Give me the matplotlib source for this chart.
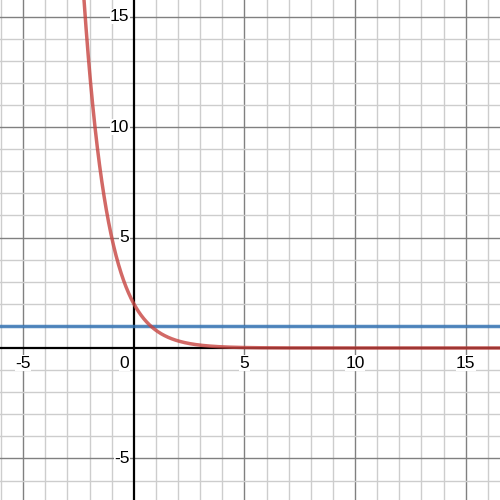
import numpy as np
import matplotlib
matplotlib.use("Agg")
import matplotlib.pyplot as plt

# Data
curve_scale = 2.0
curve_base = 0.4          # y = 2 * 0.4**x
hline_value = 1.0
x_ticks = [-5, 5, 10, 15]
y_ticks = [-5, 5, 10, 15]
xlim = (-6.05, 16.55)
ylim = (-6.88, 15.75)

plt.rcParams['font.family'] = ['Liberation Sans', 'DejaVu Sans']

fig = plt.figure(figsize=(5, 5), dpi=100)
ax = fig.add_axes([0, 0, 1, 1])
ax.set_xlim(*xlim)
ax.set_ylim(*ylim)
ax.axis('off')

# grid
for gx in range(int(np.floor(xlim[0])), int(np.ceil(xlim[1])) + 1):
    if gx == 0:
        continue
    major = gx % 5 == 0
    ax.axvline(gx, color='#808080' if major else '#cdcdcd', lw=1.0, zorder=1)
for gy in range(int(np.floor(ylim[0])), int(np.ceil(ylim[1])) + 1):
    if gy == 0:
        continue
    major = gy % 5 == 0
    ax.axhline(gy, color='#808080' if major else '#cdcdcd', lw=1.0, zorder=1)

ax.axhline(0, color='black', lw=1.6, zorder=2)
ax.axvline(0, color='black', lw=1.6, zorder=2)

x = np.linspace(xlim[0], xlim[1], 2000)
y = curve_scale * curve_base ** x
ax.plot(x, y, color='#c74440', lw=2.5, alpha=0.8, zorder=4, solid_capstyle='round')
ax.axhline(hline_value, color='#2d70b3', lw=2.5, alpha=0.8, zorder=3)

bbox = dict(facecolor='white', edgecolor='none', pad=0.3)
for t in x_ticks:
    ax.text(t, -0.35, str(t), ha='center', va='top', fontsize=12.5, zorder=5, bbox=bbox)
for t in y_ticks:
    ax.text(-0.2, t, str(t), ha='right', va='center', fontsize=12.5, zorder=5, bbox=bbox)
ax.text(-0.2, -0.35, '0', ha='right', va='top', fontsize=12.5, zorder=5, bbox=bbox)

fig.savefig('out.png', dpi=100)
